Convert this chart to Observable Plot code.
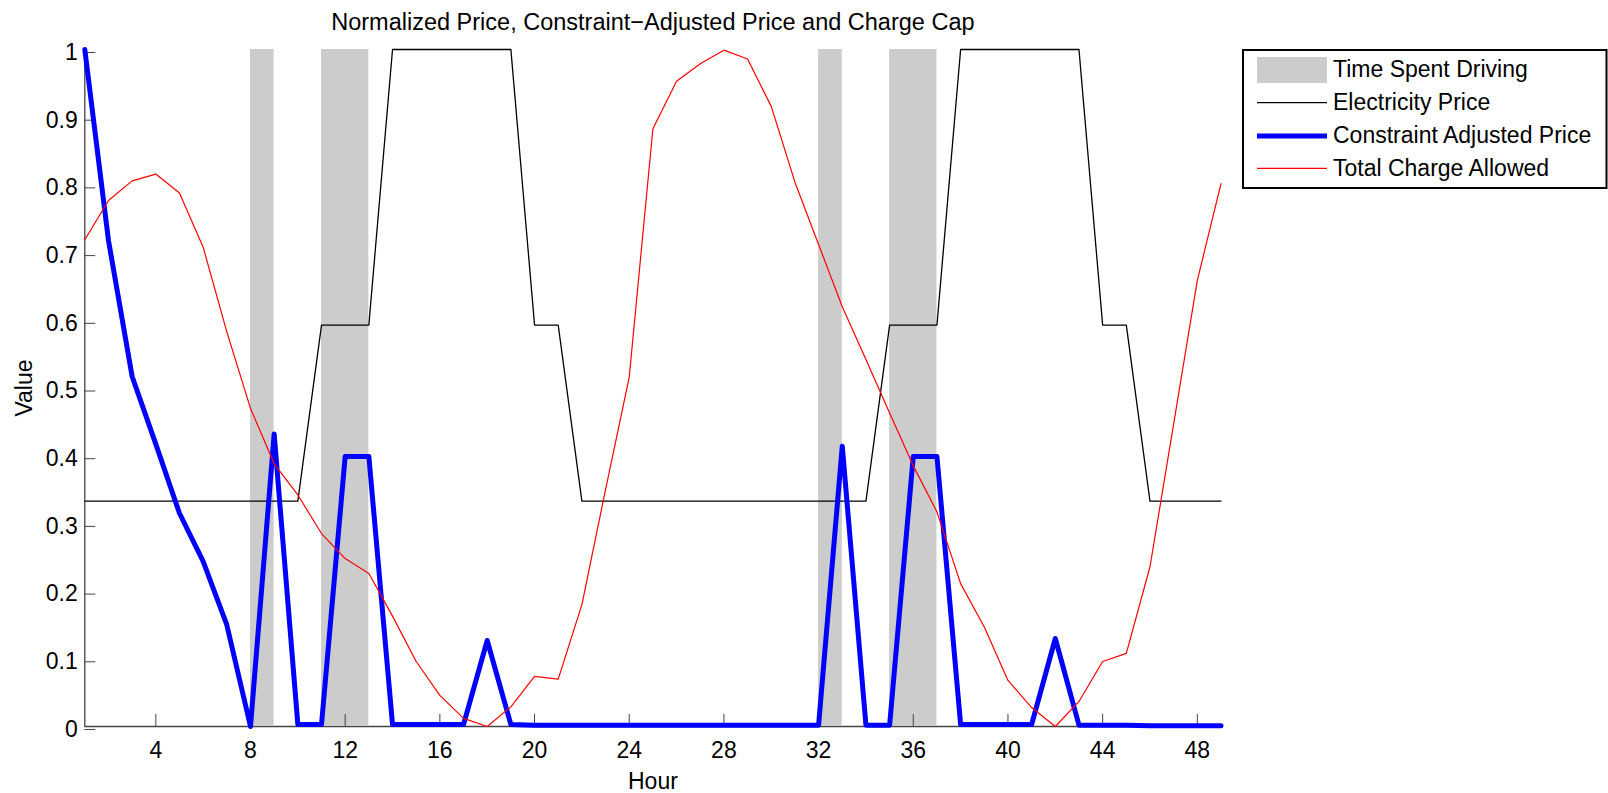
<!DOCTYPE html>
<html><head><meta charset="utf-8">
<script src="https://cdn.jsdelivr.net/npm/d3@7"></script>
<script src="https://cdn.jsdelivr.net/npm/@observablehq/plot@0.6"></script>
<style>
html,body{margin:0;padding:0;background:#fff;}
svg{display:block;}
</style></head><body><div id="chart"></div>
<script>
const hours = [1,2,3,4,5,6,7,8,9,10,11,12,13,14,15,16,17,18,19,20,21,22,23,24,25,26,27,28,29,30,31,32,33,34,35,36,37,38,39,40,41,42,43,44,45,46,47,48,49];
const electricityPrice = [0.333,0.333,0.333,0.333,0.333,0.333,0.333,0.333,0.333,0.333,
  0.593,0.593,0.593,1,1,1,1,1,1,0.593,0.593,
  0.333,0.333,0.333,0.333,0.333,0.333,0.333,0.333,0.333,0.333,0.333,0.333,0.333,
  0.593,0.593,0.593,1,1,1,1,1,1,0.593,0.593,0.333,0.333,0.333,0.333];
const adjustedPrice = [1.0,0.718,0.517,0.417,0.315,0.244,0.150,0.0,0.432,0.003,
  0.003,0.399,0.399,0.003,0.003,0.003,0.003,0.127,0.003,0.002,
  0.002,0.002,0.002,0.002,0.002,0.002,0.002,0.002,0.002,0.002,
  0.002,0.002,0.414,0.002,0.002,0.399,0.399,0.003,0.003,0.003,
  0.003,0.130,0.002,0.002,0.002,0.001,0.001,0.001,0.001];
const chargeAllowed = [0.719,0.777,0.806,0.816,0.788,0.708,0.583,0.470,0.388,0.342,
  0.285,0.248,0.226,0.163,0.096,0.046,0.012,0.0,0.029,0.074,
  0.070,0.180,0.350,0.516,0.883,0.953,0.979,0.999,0.986,0.916,
  0.804,0.712,0.620,0.542,0.463,0.385,0.317,0.211,0.147,0.068,
  0.028,0.0,0.037,0.096,0.108,0.236,0.447,0.659,0.802];
const driveStart = [8, 11, 32, 35];
const driveEnd = [9, 13, 33, 37];
const xTicks = [4, 8, 12, 16, 20, 24, 28, 32, 36, 40, 44, 48];
const yTicks = [0, 0.1, 0.2, 0.3, 0.4, 0.5, 0.6, 0.7, 0.8, 0.9, 1];
const seriesNames = ["Time Spent Driving", "Electricity Price", "Constraint Adjusted Price", "Total Charge Allowed"];
const titleText = "Normalized Price, Constraint\u2212Adjusted Price and Charge Cap";
const xLabel = "Hour";
const yLabel = "Value";

const rows = hours.map((h, i) => ({hour: h, price: electricityPrice[i], adjusted: adjustedPrice[i], charge: chargeAllowed[i]}));
const drives = driveStart.map((s, i) => ({start: s, end: driveEnd[i]}));

const font = "'Liberation Sans', Arial, Helvetica, sans-serif";
const axisColor = "#444";

const chart = Plot.plot({
  width: 1608, height: 793,
  marginLeft: 84.3, marginRight: 387.5, marginTop: 49, marginBottom: 67,
  style: {fontFamily: font, fontSize: "23px", color: "#000", background: "#fff", overflow: "visible"},
  x: {domain: [1, 49]},
  y: {domain: [0, 1]},
  marks: [
    Plot.ruleY([0], {stroke: axisColor, strokeWidth: 1.3}),
    Plot.ruleX([1], {stroke: axisColor, strokeWidth: 1.3}),
    Plot.rect(drives, {x1: "start", x2: "end", y1: 0, y2: 1, fill: "#cccccc"}),
    Plot.axisX(xTicks, {tickSize: -12, tickPadding: 27, tickFormat: d => String(d), label: null, stroke: axisColor, fill: "#000", fontSize: 23}),
    Plot.axisY(yTicks, {tickSize: -11, tickPadding: 18, dy: 3, tickFormat: d => String(+d.toFixed(1)), label: null, stroke: axisColor, fill: "#000", fontSize: 23}),
    Plot.line(rows, {x: "hour", y: "price", stroke: "#000", strokeWidth: 1.3}),
    Plot.line(rows, {x: "hour", y: "adjusted", stroke: "#0000ff", strokeWidth: 5, strokeLinejoin: "round"}),
    Plot.line(rows, {x: "hour", y: "charge", stroke: "#ff0000", strokeWidth: 1.2}),
    Plot.text([titleText], {text: d => d, frameAnchor: "top", dy: -19.7, lineAnchor: "bottom", fontSize: 23.5, fill: "#000"}),
    Plot.text([xLabel], {text: d => d, frameAnchor: "bottom", dy: 62, lineAnchor: "bottom", fontSize: 23, fill: "#000"}),
    Plot.text([yLabel], {text: d => d, frameAnchor: "left", dx: -52.6, rotate: -90, textAnchor: "middle", lineAnchor: "bottom", fontSize: 23, fill: "#000"})
  ]
});
document.getElementById("chart").appendChild(chart);

// Legend
const svg = d3.select(chart);
const lg = svg.append("g").attr("font-family", font).attr("font-size", 23).attr("text-anchor", "start");
lg.append("rect").attr("x", 1243).attr("y", 50).attr("width", 363.5).attr("height", 138)
  .attr("fill", "#fff").attr("stroke", "#000").attr("stroke-width", 2);
const rowY = [70, 102.7, 136, 168.3];
const styles = [
  {type: "rect", fill: "#cccccc"},
  {type: "line", stroke: "#000", width: 1.3},
  {type: "line", stroke: "#0000ff", width: 5},
  {type: "line", stroke: "#ff0000", width: 1.2}
];
seriesNames.forEach((name, i) => {
  const s = styles[i], cy = rowY[i];
  if (s.type === "rect") {
    lg.append("rect").attr("x", 1257).attr("y", cy - 13).attr("width", 70).attr("height", 26).attr("fill", s.fill);
  } else {
    lg.append("line").attr("x1", 1257).attr("x2", 1327).attr("y1", cy).attr("y2", cy)
      .attr("stroke", s.stroke).attr("stroke-width", s.width);
  }
  lg.append("text").attr("x", 1333).attr("y", cy).attr("dy", "0.32em").attr("fill", "#000")
    .attr("text-anchor", "start").text(name);
});
</script></body></html>
